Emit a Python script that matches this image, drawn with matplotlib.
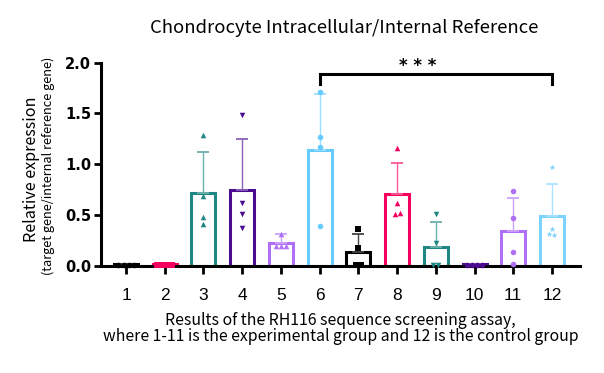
import numpy as np
import matplotlib.pyplot as plt
from matplotlib.colors import to_rgb

# data
groups = ['1', '2', '3', '4', '5', '6', '7', '8', '9', '10', '11', '12']
means = [0.015, 0.015, 0.717, 0.748, 0.228, 1.137, 0.135, 0.703, 0.186, 0.015, 0.343, 0.488]
sd_top = [0.015, 0.015, 1.12, 1.245, 0.315, 1.695, 0.31, 1.01, 0.43, 0.015, 0.67, 0.81]
points = [
    [0.005, 0.005, 0.005, 0.005],
    [0.005, 0.005, 0.005, 0.005],
    [1.29, 0.69, 0.48, 0.41],
    [1.485, 0.615, 0.516, 0.378],
    [0.31, 0.2, 0.2, 0.2],
    [1.714, 1.27, 1.17, 0.394],
    [0.36, 0.18, 0.005, 0.005],
    [1.16, 0.615, 0.51, 0.525],
    [0.516, 0.227, 0.005, 0.005],
    [0.005, 0.005, 0.005, 0.005],
    [0.74, 0.473, 0.138, 0.02],
    [0.97, 0.368, 0.312, 0.30],
]
colors = ['#000000', '#F5005F', '#1F8783', '#4B0C8F', '#B070F5', '#66CCFF',
          '#000000', '#F5005F', '#1F8783', '#4B0C8F', '#B070F5', '#7DD3FF']
markers = ['o', 's', '^', 'v', '^', 'o', 's', '^', 'v', 'o', 'o', '*']


def lighten(c, f):
    r = np.array(to_rgb(c))
    return tuple(r + (1 - r) * f)


def spread(vals, tol=0.03, step=0.13):
    # points with (almost) the same value get set side by side
    offs = [0.0] * len(vals)
    done = set()
    for i in range(len(vals)):
        if i in done:
            continue
        grp = [j for j in range(len(vals)) if j not in done and abs(vals[j] - vals[i]) < tol]
        n = len(grp)
        for k, j in enumerate(grp):
            offs[j] = (k - (n - 1) / 2) * step
            done.add(j)
    return offs


fig = plt.figure(figsize=(6.04, 3.73), dpi=100)
ax = fig.add_axes([0.167, 0.287, 0.793, 0.545])

x = np.arange(1, len(groups) + 1)
for i in range(len(groups)):
    c = colors[i]
    ax.bar(x[i], means[i], width=0.62, facecolor='white', edgecolor=c, linewidth=2.2, zorder=2)
    ecol = lighten(c, 0.35) if c != '#000000' else '#444444'
    ax.errorbar(x[i], means[i], yerr=[[0], [sd_top[i] - means[i]]], fmt='none',
                ecolor=ecol, elinewidth=1.0, capsize=4.5, capthick=1.3, zorder=3)
    offs = spread(points[i])
    ms = 4.5 if markers[i] == '*' else 4
    ax.scatter(x[i] + np.array(offs), points[i], marker=markers[i], s=ms ** 2,
               color=c, zorder=4, clip_on=False, linewidths=0)

ax.set_xlim(0.35, 12.72)
ax.set_ylim(0, 2.0)
ax.set_yticks([0, 0.5, 1.0, 1.5, 2.0])
ax.set_yticklabels(['0.0', '0.5', '1.0', '1.5', '2.0'], fontweight='bold',
                   fontsize=10.5, family='DejaVu Sans')
ax.set_xticks(x)
ax.set_xticklabels(groups, fontsize=12.5, family='Liberation Sans')
ax.tick_params(axis='y', length=5, width=2, pad=2)
ax.tick_params(axis='x', length=6, width=2, pad=10)

for s in ['top', 'right']:
    ax.spines[s].set_visible(False)
for s in ['left', 'bottom']:
    ax.spines[s].set_linewidth(2.2)

# significance bracket 6 vs 12
ax.plot([6, 6, 12, 12], [1.79, 1.89, 1.89, 1.79], color='black', lw=2.2,
        clip_on=False, solid_joinstyle='miter')
ax.text(8.52, 1.97, '* * *', ha='center', va='center', fontsize=12,
        fontweight='bold', family='DejaVu Sans')

fig.text(0.57, 0.925, 'Chondrocyte Intracellular/Internal Reference',
         ha='center', va='center', fontsize=13.3, family='Noto Sans CJK SC')

# y label: two lines of different size
fig.text(0.052, 0.545, 'Relative expression', rotation=90, ha='center', va='center',
         fontsize=11.6, family='Noto Sans CJK SC')
fig.text(0.08, 0.556, '(target gene/internal reference gene)', rotation=90,
         ha='center', va='center', fontsize=9.2, family='Noto Sans CJK SC')

ax.set_xlabel('Results of the RH116 sequence screening assay,\n'
              'where 1-11 is the experimental group and 12 is the control group',
              fontsize=11.4, family='Noto Sans CJK SC',
              linespacing=0.95, labelpad=6)

fig.savefig('out.png', dpi=100)
